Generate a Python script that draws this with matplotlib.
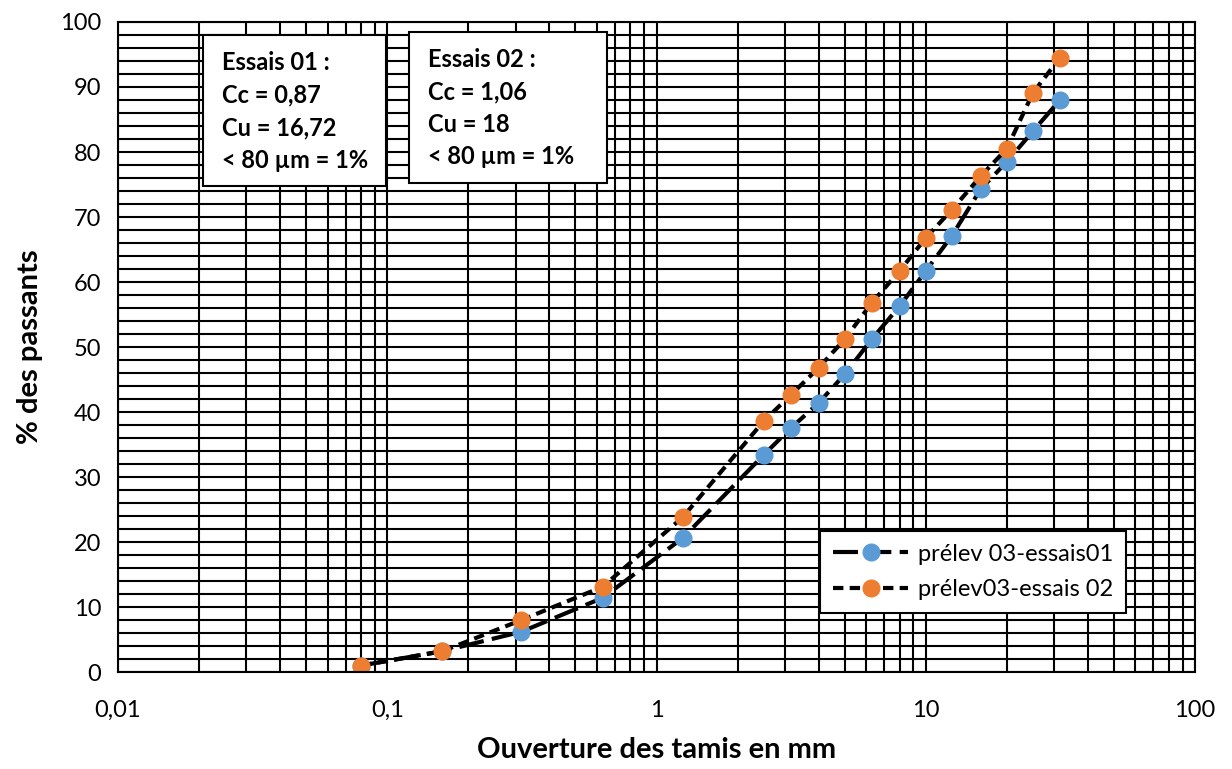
import matplotlib.pyplot as plt
from matplotlib.patches import Rectangle
from matplotlib.ticker import FixedLocator, LogLocator, MultipleLocator, FuncFormatter

plt.rcParams['font.family'] = ['Lato', 'DejaVu Sans']

# Sieve openings (mm) and passing percentages
tamis = [0.08, 0.16, 0.315, 0.63, 1.25, 2.5, 3.15, 4, 5, 6.3, 8, 10, 12.5, 16, 20, 25, 31.5]
essais01 = [1.0, 3.2, 6.2, 11.4, 20.6, 33.4, 37.5, 41.4, 45.8, 51.2, 56.3, 61.7, 67.1, 74.3, 78.5, 83.2, 88.0]
essais02 = [1.0, 3.2, 8.0, 13.1, 23.8, 38.6, 42.6, 46.8, 51.2, 56.8, 61.7, 66.8, 71.1, 76.3, 80.5, 89.1, 94.5]

nom01 = 'prélev 03-essais01'
nom02 = 'prélev03-essais 02'
texte01 = 'Essais 01 :\nCc = 0,87\nCu = 16,72\n< 80 µm = 1%'
texte02 = 'Essais 02 :\nCc = 1,06\nCu = 18\n< 80 µm = 1%'

fig = plt.figure(figsize=(12.32, 7.69), dpi=100)
ax = fig.add_axes([0.0958, 0.1261, 0.8742, 0.8453])

ax.set_xscale('log')
ax.set_xlim(0.01, 100)
ax.set_ylim(0, 100)

# grid: log minor verticals, horizontals every 2
ax.xaxis.set_major_locator(FixedLocator([0.01, 0.1, 1, 10, 100]))
ax.xaxis.set_minor_locator(LogLocator(base=10, subs=range(2, 10)))
ax.yaxis.set_major_locator(MultipleLocator(10))
ax.yaxis.set_minor_locator(MultipleLocator(2))
ax.xaxis.set_major_formatter(FuncFormatter(lambda v, p: ('%g' % v).replace('.', ',')))
ax.xaxis.set_minor_formatter(FuncFormatter(lambda v, p: ''))
ax.grid(which='both', color='black', linewidth=1.5)
ax.set_axisbelow(True)
ax.tick_params(which='both', length=0, labelsize=17)
ax.tick_params(axis='y', pad=12)
ax.tick_params(axis='x', pad=20)
for s in ax.spines.values():
    s.set_color('black')
    s.set_linewidth(1.5)

ax.plot(tamis, essais01, color='black', linewidth=3, dashes=(6, 2),
        marker='o', markersize=12, markerfacecolor='#5B9BD5', markeredgecolor='#5B9BD5',
        label=nom01)
ax.plot(tamis, essais02, color='black', linewidth=3, dashes=(2.5, 1.5),
        marker='o', markersize=12, markerfacecolor='#ED7D31', markeredgecolor='#ED7D31',
        label=nom02)

ax.set_xlabel('Ouverture des tamis en mm', fontsize=21, fontweight='bold', labelpad=12)
ax.set_ylabel('% des passants', fontsize=21, fontweight='bold', labelpad=12)

# annotation boxes (axes fractions)
for (x0, y0, w, h, tx, ty, txt) in [
        (0.079, 0.748, 0.170, 0.232, 0.097, 0.955, texte01),
        (0.270, 0.752, 0.184, 0.233, 0.288, 0.960, texte02)]:
    ax.add_patch(Rectangle((x0, y0), w, h, transform=ax.transAxes, facecolor='white',
                           edgecolor='black', linewidth=1.5, zorder=5))
    ax.text(tx, ty, txt, transform=ax.transAxes, fontsize=17, fontweight='bold',
            va='top', ha='left', linespacing=1.5, zorder=6)

leg = ax.legend(loc='lower right', bbox_to_anchor=(0.947, 0.073), fontsize=17,
                frameon=True, fancybox=False, handlelength=3.2, borderpad=0.55,
                labelspacing=0.6, handletextpad=0.4)
leg.get_frame().set_edgecolor('black')
leg.get_frame().set_linewidth(1.5)
leg.get_frame().set_alpha(1)

fig.savefig('out.png', dpi=100)
